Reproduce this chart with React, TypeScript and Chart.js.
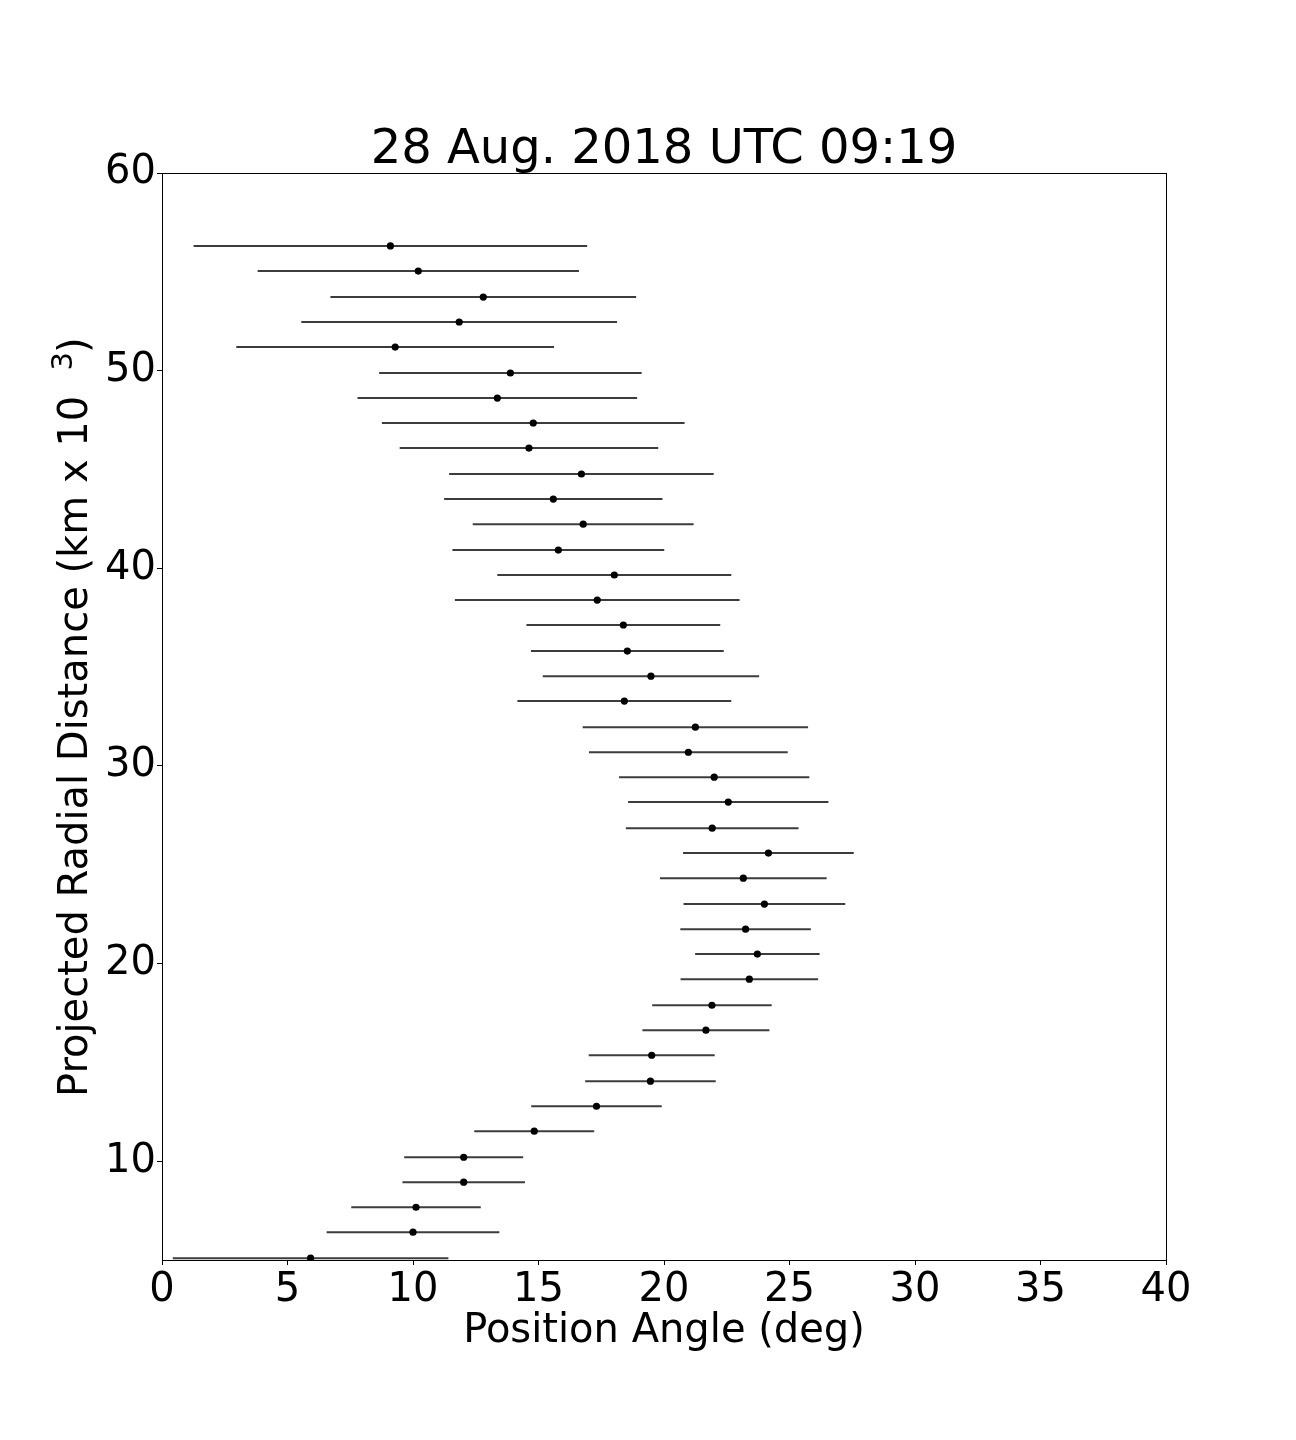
import React, { useEffect, useRef } from "react";
import { Chart, registerables } from "chart.js";

Chart.register(...registerables);

// Data
const radialDistance = [
  56.31, 55.04, 53.72, 52.46, 51.19, 49.88, 48.61, 47.35, 46.08, 44.77,
  43.5, 42.23, 40.92, 39.66, 38.39, 37.13, 35.81, 34.54, 33.28, 31.96,
  30.69, 29.43, 28.17, 26.85, 25.59, 24.32, 23.01, 21.74, 20.48, 19.21,
  17.89, 16.63, 15.36, 14.05, 12.78, 11.52, 10.2, 8.94, 7.67, 6.41, 5.09,
];
const positionAngle = [
  9.1, 10.21, 12.8, 11.84, 9.29, 13.88, 13.36, 14.79, 14.62, 16.71,
  15.59, 16.78, 15.79, 18.02, 17.34, 18.38, 18.54, 19.48, 18.42, 21.25,
  20.97, 22.0, 22.56, 21.92, 24.16, 23.16, 24.0, 23.25, 23.72, 23.4,
  21.91, 21.67, 19.51, 19.46, 17.31, 14.83, 12.02, 12.02, 10.12, 10.0, 5.92,
];
const angleError = [
  7.84, 6.4, 6.09, 6.29, 6.33, 5.23, 5.57, 6.03, 5.15, 5.27,
  4.35, 4.4, 4.22, 4.66, 5.67, 3.86, 3.84, 4.31, 4.26, 4.49,
  3.96, 3.79, 3.99, 3.44, 3.4, 3.32, 3.22, 2.6, 2.48, 2.74,
  2.38, 2.53, 2.51, 2.6, 2.6, 2.39, 2.37, 2.44, 2.58, 3.44, 5.49,
];
const xTicks = [0, 5, 10, 15, 20, 25, 30, 35, 40];
const yTicks = [10, 20, 30, 40, 50, 60];
const xRange = [0, 40];
const yRange = [5, 60];
const titleText = "28 Aug. 2018 UTC 09:19";
const xLabelText = "Position Angle (deg)";
const yLabelMain = "Projected Radial Distance (km x 10";
const yLabelSup = "3";
const yLabelEnd = ")";

const FONT = "'DejaVu Sans', sans-serif";

const errorBarPlugin = {
  id: "errorBars",
  beforeDatasetsDraw(chart: any) {
    const { ctx, chartArea, scales } = chart;
    ctx.save();
    ctx.beginPath();
    ctx.rect(chartArea.left, chartArea.top, chartArea.right - chartArea.left, chartArea.bottom - chartArea.top);
    ctx.clip();
    ctx.strokeStyle = "#3c3c3c";
    ctx.lineWidth = 2;
    positionAngle.forEach((a, i) => {
      const y = scales.y.getPixelForValue(radialDistance[i]);
      const x1 = scales.x.getPixelForValue(a - angleError[i]);
      const x2 = scales.x.getPixelForValue(a + angleError[i]);
      ctx.beginPath();
      ctx.moveTo(x1, y);
      ctx.lineTo(x2, y);
      ctx.stroke();
    });
    ctx.restore();
  },
};

const decorPlugin = {
  id: "decor",
  afterDraw(chart: any) {
    const { ctx, chartArea } = chart;
    const { left, top, right, bottom } = chartArea;
    ctx.save();
    // frame
    ctx.strokeStyle = "#000";
    ctx.lineWidth = 1;
    ctx.strokeRect(Math.round(left) + 0.5, Math.round(top) + 0.5, Math.round(right - left), Math.round(bottom - top));
    ctx.fillStyle = "#000";
    // title
    ctx.font = `48px ${FONT}`;
    ctx.textAlign = "center";
    ctx.textBaseline = "alphabetic";
    ctx.fillText(titleText, (left + right) / 2, top - 10);
    // x label
    ctx.font = `40px ${FONT}`;
    ctx.fillText(xLabelText, (left + right) / 2, bottom + 82);
    // y label (rotated)
    ctx.translate(87, 1097);
    ctx.rotate(-Math.PI / 2);
    ctx.textAlign = "left";
    ctx.font = `40px ${FONT}`;
    ctx.fillText(yLabelMain, 0, 0);
    ctx.font = `29px ${FONT}`;
    ctx.fillText(yLabelSup, 726.5, -15);
    ctx.font = `40px ${FONT}`;
    ctx.fillText(yLabelEnd, 744, 0);
    ctx.restore();
  },
};

export default function App() {
  const canvasRef = useRef<HTMLCanvasElement | null>(null);

  useEffect(() => {
    const canvas = canvasRef.current;
    if (!canvas) return;
    const chart = new Chart(canvas, {
      type: "scatter",
      data: {
        datasets: [
          {
            data: positionAngle.map((a, i) => ({ x: a, y: radialDistance[i] })),
            pointRadius: 3.6,
            pointHoverRadius: 3.6,
            pointBackgroundColor: "#000",
            pointBorderWidth: 0,
            showLine: false,
          },
        ],
      },
      options: {
        responsive: false,
        animation: false,
        devicePixelRatio: 1,
        layout: { padding: { top: 173, right: 130, left: 0, bottom: 0 } },
        plugins: {
          legend: { display: false },
          tooltip: { enabled: false },
          title: { display: false },
        },
        scales: {
          x: {
            type: "linear",
            min: xRange[0],
            max: xRange[1],
            afterBuildTicks: (s: any) => {
              s.ticks = xTicks.map((v) => ({ value: v }));
            },
            afterFit: (s: any) => {
              s.height = 180;
            },
            grid: { display: true, drawOnChartArea: false, drawTicks: true, tickLength: 5, color: "#000", lineWidth: 1 },
            border: { display: false },
            ticks: { color: "#000", font: { family: FONT, size: 40 }, padding: 2, maxRotation: 0 },
          },
          y: {
            type: "linear",
            min: yRange[0],
            max: yRange[1],
            afterBuildTicks: (s: any) => {
              s.ticks = yTicks.map((v) => ({ value: v }));
            },
            afterFit: (s: any) => {
              s.width = 162;
            },
            grid: { display: true, drawOnChartArea: false, drawTicks: true, tickLength: 5, color: "#000", lineWidth: 1 },
            border: { display: false },
            ticks: { color: "#000", font: { family: FONT, size: 40 }, padding: 1 },
          },
        },
      },
      plugins: [errorBarPlugin, decorPlugin],
    });
    return () => chart.destroy();
  }, []);

  return (
    <div style={{ position: "absolute", left: 0, top: 0, width: 1296, height: 1440, background: "#fff" }}>
      <canvas ref={canvasRef} width={1296} height={1440} style={{ width: 1296, height: 1440, display: "block" }} />
    </div>
  );
}
